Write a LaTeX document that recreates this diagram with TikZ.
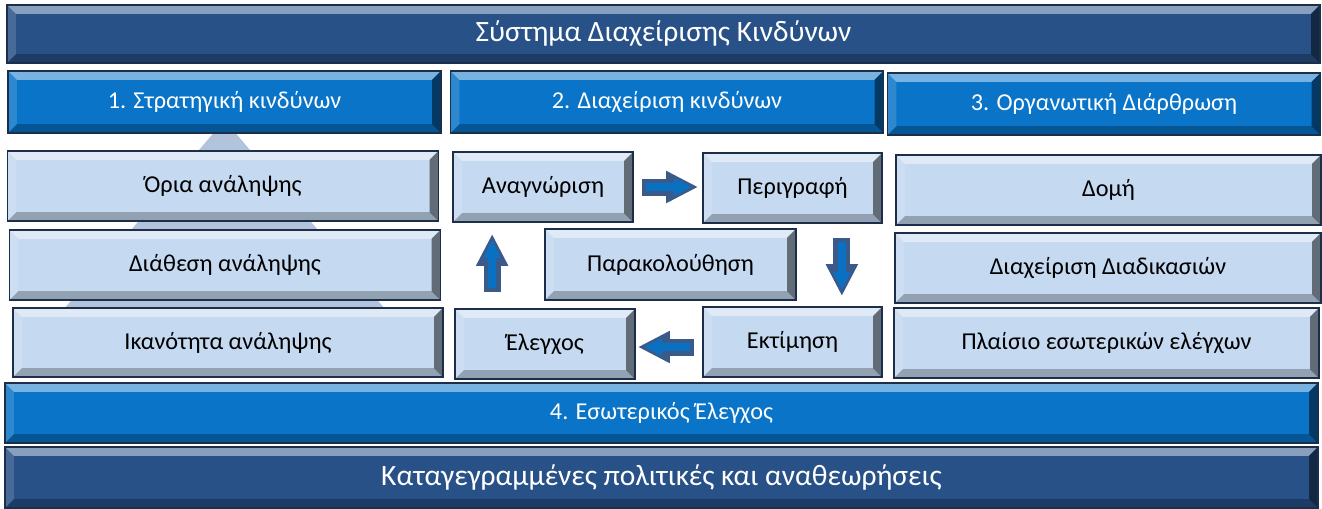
\documentclass[tikz,border=0pt]{standalone}
\usepackage{fontspec}
\setmainfont{Carlito}
\usetikzlibrary{arrows.meta, positioning, calc}
\definecolor{riskDark}{RGB}{40,81,136}
\definecolor{riskMid}{RGB}{9,116,200}
\definecolor{riskLight}{RGB}{197,217,240}
\definecolor{riskEdge}{RGB}{28,46,74}
\definecolor{riskPyramid}{RGB}{178,196,220}
\definecolor{riskArrow}{RGB}{58,90,138}
\definecolor{riskArrowIn}{RGB}{10,112,194}
\newcommand{\ppb}{path picture bounding box}

\begin{document}
\begin{tikzpicture}[x=0.02cm, y=-0.02cm]
        \tikzstyle{bevel} = [path picture={
            \fill[white, opacity=0.45] (\ppb.north west) -- (\ppb.north east) -- ([shift={(-5pt,-5pt)}]\ppb.north east) -- ([shift={(5pt,-5pt)}]\ppb.north west) -- cycle;
            \fill[white, opacity=0.15] (\ppb.north west) -- ([shift={(5pt,-5pt)}]\ppb.north west) -- ([shift={(5pt,5pt)}]\ppb.south west) -- (\ppb.south west) -- cycle;
            \fill[black, opacity=0.25] (\ppb.south west) -- ([shift={(5pt,5pt)}]\ppb.south west) -- ([shift={(-5pt,5pt)}]\ppb.south east) -- (\ppb.south east) -- cycle;
            \fill[black, opacity=0.5] (\ppb.south east) -- ([shift={(-5pt,5pt)}]\ppb.south east) -- ([shift={(-5pt,-5pt)}]\ppb.north east) -- (\ppb.north east) -- cycle;
        }]
        \tikzstyle{bar} = [rectangle, draw=riskEdge, line width=0.8pt, bevel, text=white, minimum width=26.26cm]
        \tikzstyle{head} = [rectangle, draw=riskEdge, line width=0.8pt, fill=riskMid, bevel, text=white, font=\fontsize{13.8}{16}\selectfont, minimum width=8.66cm, minimum height=1.24cm]
        \tikzstyle{box} = [rectangle, draw=riskEdge, line width=1pt, fill=riskLight, bevel, font=\fontsize{13.8}{16}\selectfont, minimum height=1.4cm]
        \tikzstyle{fat} = [draw=riskArrow, line width=0.34cm, -{Triangle[length=0.64cm, width=0.6cm]}]
        \tikzstyle{fatin} = [draw=riskArrowIn, line width=0.15cm, -{Triangle[length=0.36cm, width=0.32cm]}]

        \useasboundingbox (0,0) rectangle (1322,508);

        % pyramid behind the strategy boxes
        \fill[riskPyramid] (224.5,120) -- (391,316) -- (58,316) -- cycle;

        \node[bar, fill=riskDark, minimum height=1.16cm, font=\fontsize{16.8}{19}\selectfont] (system) at (663.5,34) {Σύστημα Διαχείρισης Κινδύνων};

        \node[head] (strategy) at (224.5,102) {1. Στρατηγική κινδύνων};
        \node[head] (management) at (667,102) {2. Διαχείριση κινδύνων};
        \node[head] (structure) at (1104,104) {3. Οργανωτική Διάρθρωση};

        \node[box, minimum width=8.62cm] (limits) at (223,186) {Όρια ανάληψης};
        \node[box, minimum width=8.62cm] (appetite) at (225,265) {Διάθεση ανάληψης};
        \node[box, minimum width=8.6cm, minimum height=1.38cm] (capacity) at (228,342.5) {Ικανότητα ανάληψης};

        \node[box, minimum width=3.6cm] (identify) at (543,187) {Αναγνώριση};
        \node[box, minimum width=3.58cm] (describe) at (792.5,188) {Περιγραφή};
        \node[box, minimum width=5.02cm, minimum height=1.42cm] (monitor) at (670.5,264.5) {Παρακολούθηση};
        \node[box, minimum width=3.6cm] (control) at (545,344) {Έλεγχος};
        \node[box, minimum width=3.58cm] (assess) at (792.5,342) {Εκτίμηση};

        \node[box, minimum width=8.5cm] (org) at (1108.5,190) {Δομή};
        \node[box, minimum width=8.52cm] (process) at (1108,268) {Διαχείριση Διαδικασιών};
        \node[box, minimum width=8.5cm] (framework) at (1106.5,343) {Πλαίσιο εσωτερικών ελέγχων};

        \node[bar, fill=riskMid, minimum height=1.2cm, font=\fontsize{13.8}{16}\selectfont] (audit) at (661.5,413) {4. Εσωτερικός Έλεγχος};
        \node[bar, fill=riskDark, minimum height=1.22cm, font=\fontsize{16.8}{19}\selectfont] (policies) at (661.5,477.5) {Καταγεγραμμένες πολιτικές και αναθεωρήσεις};

        % risk cycle
        \coordinate (down) at ($(describe.south east)+(-41,0)$);
        \coordinate (left) at ($(assess.west)+(0,5)$);
        \coordinate (up) at ($(control.north west)+(38,0)$);

        \draw[fat, shorten <=0.16cm, shorten >=0.08cm] (identify.east) -- (identify.east -| describe.west);
        \draw[fatin, shorten <=0.24cm, shorten >=0.2cm] (identify.east) -- (identify.east -| describe.west);
        \draw[fat, shorten <=0.28cm, shorten >=0.2cm] (down) -- (down |- assess.north);
        \draw[fatin, shorten <=0.36cm, shorten >=0.32cm] (down) -- (down |- assess.north);
        \draw[fat, shorten <=0.16cm, shorten >=0.04cm] (left) -- (left -| control.east);
        \draw[fatin, shorten <=0.24cm, shorten >=0.16cm] (left) -- (left -| control.east);
        \draw[fat, shorten <=0.32cm, shorten >=0.22cm] (up) -- (up |- identify.south);
        \draw[fatin, shorten <=0.4cm, shorten >=0.34cm] (up) -- (up |- identify.south);
    \end{tikzpicture}
\end{document}
